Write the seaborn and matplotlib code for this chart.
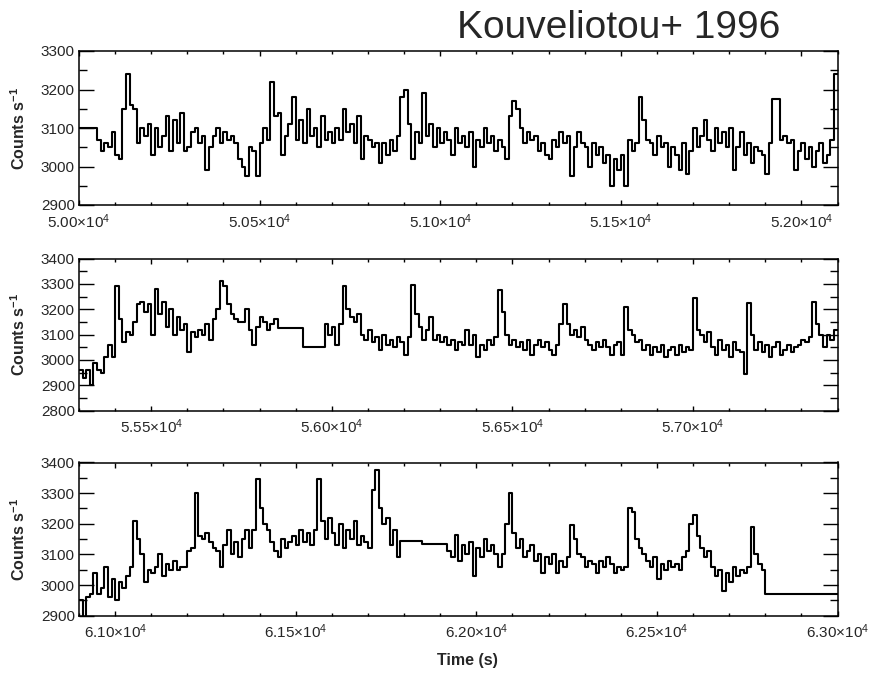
import numpy as np
import pandas as pd
import matplotlib
matplotlib.use("Agg")
import matplotlib.pyplot as plt
import seaborn as sns
from matplotlib.ticker import MultipleLocator, FuncFormatter

# ---------------- data (10 s bins) ----------------
BIN_S = 10

p1_start = 50000
p1_counts = [
    3100, 3100, 3100, 3100, 3100, 3070, 3040, 3060, 3050, 3090,
    3030, 3020, 3150, 3240, 3160, 3150, 3060, 3100, 3080, 3110,
    3030, 3100, 3050, 3080, 3130, 3040, 3120, 3060, 3140, 3040,
    3050, 3090, 3100, 3060, 3080, 2990, 3050, 3080, 3100, 3060,
    3090, 3070, 3080, 3060, 3020, 3000, 2975, 3050, 3040, 2975,
    3060, 3100, 3070, 3220, 3130, 3140, 3030, 3080, 3110, 3180,
    3070, 3120, 3060, 3150, 3080, 3100, 3050, 3130, 3070, 3090,
    3060, 3100, 3070, 3150, 3090, 3110, 3060, 3130, 3020, 3080,
    3070, 3050, 3060, 3010, 3060, 3030, 3070, 3040, 3080, 3180,
    3200, 3110, 3020, 3090, 3060, 3190, 3080, 3110, 3050, 3100,
    3060, 3090, 3070, 3030, 3100, 3060, 3080, 3050, 3090, 3000,
    3070, 3050, 3100, 3060, 3080, 3040, 3070, 3050, 3020, 3130,
    3170, 3150, 3100, 3060, 3090, 3070, 3080, 3040, 3060, 3030,
    3020, 3070, 3050, 3090, 3060, 3080, 2975, 3050, 3090, 3060,
    3050, 3000, 3060, 3030, 3050, 3010, 3030, 2950, 3020, 2990,
    3030, 2950, 3070, 3040, 3060, 3180, 3120, 3070, 3060, 3030,
    3080, 3050, 3060, 3000, 3050, 3030, 2990, 3060, 2980, 3040,
    3100, 3050, 3080, 3120, 3070, 3040, 3100, 3060, 3090, 3050,
    3100, 2990, 3050, 3090, 3030, 3060, 3010, 3050, 3040, 3030,
    2980, 3060, 3175, 3175, 3070, 3080, 3060, 3070, 2990, 3040,
    3060, 3020, 3050, 3000, 3040, 3060, 3010, 3030, 3070, 3240,
]

p2_start = 55300
p2_counts = [
    2960, 2930, 2960, 2900, 2990, 2960, 2950, 3010, 3060, 3010,
    3290, 3160, 3070, 3110, 3100, 3150, 3220, 3230, 3190, 3220,
    3100, 3280, 3180, 3230, 3130, 3200, 3100, 3170, 3120, 3140,
    3030, 3110, 3090, 3120, 3100, 3140, 3080, 3160, 3200, 3310,
    3290, 3220, 3180, 3160, 3150, 3150, 3200, 3120, 3060, 3130,
    3170, 3150, 3120, 3140, 3160, 3125, 3125, 3125, 3125, 3125,
    3125, 3125, 3050, 3050, 3050, 3050, 3050, 3050, 3140, 3100,
    3130, 3060, 3140, 3290, 3200, 3170, 3150, 3180, 3100, 3080,
    3120, 3070, 3090, 3040, 3100, 3060, 3080, 3050, 3090, 3070,
    3020, 3090, 3295, 3180, 3130, 3080, 3120, 3170, 3080, 3100,
    3070, 3090, 3060, 3080, 3040, 3070, 3060, 3120, 3060, 3100,
    3010, 3060, 3040, 3080, 3060, 3090, 3275, 3190, 3100, 3060,
    3080, 3050, 3070, 3040, 3080, 3020, 3060, 3080, 3050, 3070,
    3040, 3020, 3060, 3140, 3220, 3140, 3100, 3120, 3090, 3130,
    3080, 3060, 3040, 3070, 3050, 3080, 3050, 3020, 3060, 3070,
    3020, 3210, 3120, 3100, 3070, 3080, 3040, 3060, 3020, 3050,
    3030, 3060, 3010, 3040, 3050, 3020, 3060, 3030, 3050, 3040,
    3245, 3120, 3100, 3070, 3110, 3050, 3020, 3080, 3040, 3060,
    3010, 3070, 3040, 3030, 2945, 3225, 3100, 3040, 3070, 3030,
    3060, 3010, 3050, 3070, 3020, 3040, 3060, 3030, 3050, 3060,
    3080, 3070, 3090, 3230, 3140, 3100, 3050, 3100, 3080, 3120,
]

p3_start = 60900
p3_counts = [
    2950, 2880, 2960, 2970, 3040, 2970, 2990, 3060, 2960, 3020,
    2950, 3010, 2990, 3030, 3060, 3210, 3150, 3100, 3010, 3050,
    3040, 3060, 3100, 3030, 3070, 3050, 3080, 3050, 3060, 3060,
    3110, 3120, 3300, 3160, 3150, 3170, 3140, 3120, 3110, 3060,
    3130, 3180, 3100, 3140, 3090, 3150, 3180, 3120, 3180, 3345,
    3250, 3200, 3180, 3140, 3110, 3090, 3150, 3120, 3140, 3160,
    3130, 3180, 3140, 3170, 3130, 3180, 3345, 3210, 3150, 3220,
    3170, 3130, 3200, 3120, 3180, 3150, 3210, 3130, 3160, 3140,
    3120, 3310, 3375, 3250, 3200, 3220, 3130, 3180, 3090, 3145,
    3145, 3145, 3145, 3145, 3145, 3135, 3135, 3135, 3135, 3135,
    3135, 3135, 3110, 3090, 3165, 3080, 3130, 3100, 3140, 3030,
    3120, 3090, 3150, 3110, 3130, 3100, 3060, 3100, 3200, 3300,
    3170, 3120, 3150, 3090, 3110, 3130, 3080, 3100, 3040, 3090,
    3070, 3100, 3040, 3080, 3060, 3090, 3195, 3150, 3100, 3090,
    3060, 3080, 3070, 3040, 3080, 3060, 3090, 3070, 3040, 3060,
    3050, 3060, 3250, 3240, 3150, 3120, 3100, 3080, 3060, 3090,
    3020, 3070, 3050, 3080, 3060, 3070, 3050, 3090, 3110, 3200,
    3230, 3160, 3120, 3090, 3110, 3060, 3030, 3050, 2980, 3040,
    3010, 3060, 3030, 3050, 3040, 3060, 3190, 3100, 3070, 3050,
    2970, 2970, 2970, 2970, 2970, 2970, 2970, 2970, 2970, 2970,
    2970, 2970, 2970, 2970, 2970, 2970, 2970, 2970, 2970, 2970,
]

panels = [
    dict(start=p1_start, counts=p1_counts, xlim=(50000, 52100), ylim=(2900, 3300),
         xticks=[50000, 50500, 51000, 51500, 52000]),
    dict(start=p2_start, counts=p2_counts, xlim=(55300, 57400), ylim=(2800, 3400),
         xticks=[55500, 56000, 56500, 57000]),
    dict(start=p3_start, counts=p3_counts, xlim=(60900, 63000), ylim=(2900, 3400),
         xticks=[61000, 61500, 62000, 62500, 63000]),
]
for p in panels:
    assert len(p["counts"]) == 210, len(p["counts"])

# ---------------- style ----------------
sns.set_style("ticks")
plt.rcParams["font.family"] = ["Liberation Sans", "DejaVu Sans"]
plt.rcParams["mathtext.fontset"] = "custom"
plt.rcParams["mathtext.rm"] = "Liberation Sans"
plt.rcParams["mathtext.bf"] = "Liberation Sans:bold"
plt.rcParams["mathtext.it"] = "Liberation Sans:italic"

W, H = 881, 673
fig = plt.figure(figsize=(W / 100, H / 100), dpi=100)

boxes = [(79, 837.5, 51, 205), (79, 837.5, 258.5, 410.7), (79, 837.5, 462.5, 615.7)]


def xfmt(v, pos):
    return f"{v / 1e4:.2f}\u00d710$^{{4}}$"


for p, (x0, x1, y0, y1) in zip(panels, boxes):
    ax = fig.add_axes([x0 / W, 1 - y1 / H, (x1 - x0) / W, (y1 - y0) / H])
    n = len(p["counts"])
    t = p["start"] + BIN_S * np.arange(n + 1)
    c = list(p["counts"]) + [p["counts"][-1]]
    df = pd.DataFrame({"t": t, "c": c})
    sns.lineplot(data=df, x="t", y="c", ax=ax, drawstyle="steps-post",
                 color="black", linewidth=1.5, estimator=None, sort=False)
    ax.set_xlim(*p["xlim"])
    ax.set_ylim(*p["ylim"])
    ax.set_xticks(p["xticks"])
    ax.xaxis.set_minor_locator(MultipleLocator(100))
    ax.yaxis.set_major_locator(MultipleLocator(100))
    ax.yaxis.set_minor_locator(MultipleLocator(50))
    ax.xaxis.set_major_formatter(FuncFormatter(xfmt))
    ax.yaxis.set_major_formatter(FuncFormatter(lambda v, pos: f"{int(round(v))}"))
    ax.tick_params(which="both", direction="in", top=True, right=True,
                   labelsize=11, width=1.0, color="black")
    ax.tick_params(axis="x", which="major", length=3.5, pad=5)
    ax.tick_params(axis="x", which="minor", length=2)
    ax.tick_params(axis="y", which="major", length=11, pad=3)
    ax.tick_params(axis="y", which="minor", length=5.5)
    for s in ax.spines.values():
        s.set_linewidth(1.1)
        s.set_color("black")
    ax.set_xlabel("")
    ax.set_ylabel("Counts s$^{\\mathbf{-1}}$", fontsize=11.5, fontweight="bold")
    ax.yaxis.set_label_coords(-0.067, 0.5)

fig.text(467 / W, 1 - 661 / H, "Time (s)", ha="center", va="center",
         fontsize=11.5, fontweight="bold")
fig.text(619 / W, 1 - 28 / H, "Kouveliotou+ 1996", ha="center", va="center",
         fontsize=28)

fig.savefig("out.png", dpi=100)
